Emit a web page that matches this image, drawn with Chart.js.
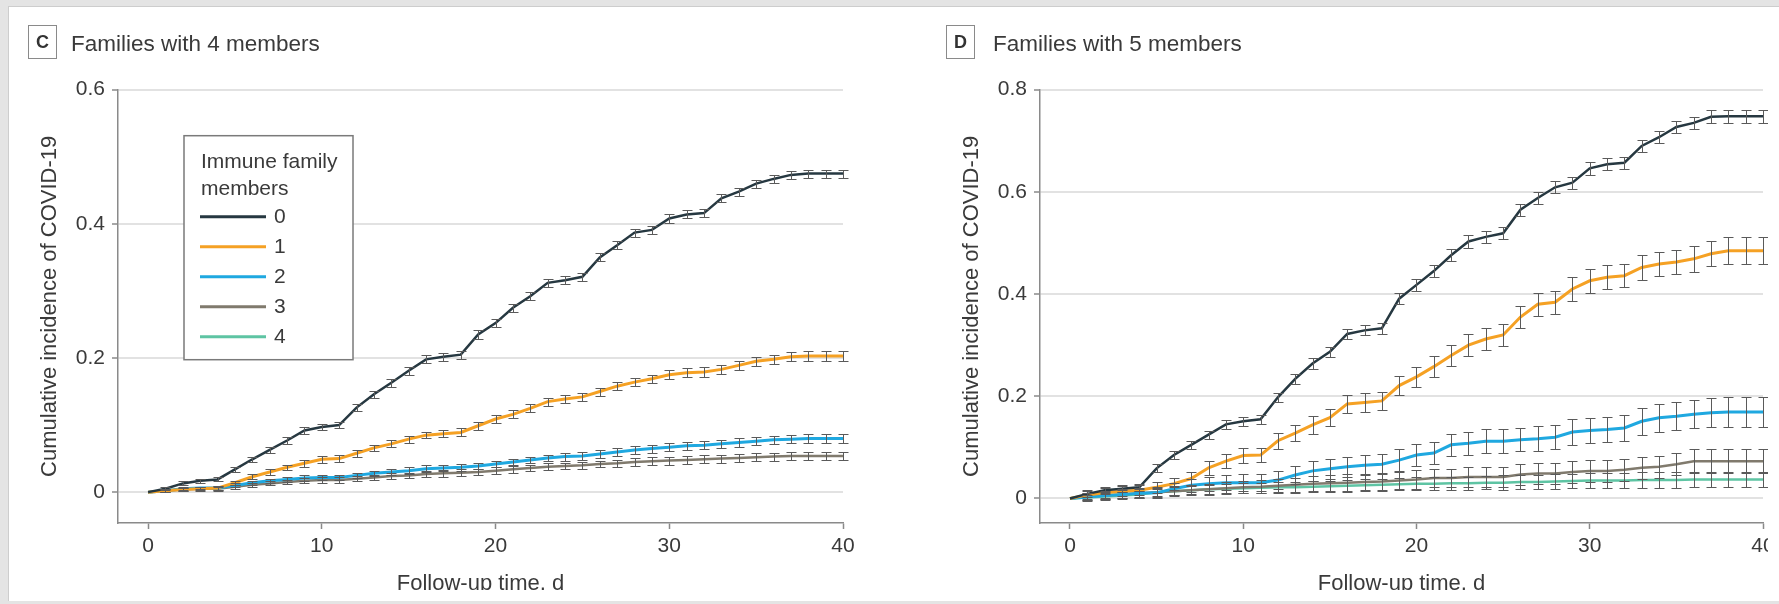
<!DOCTYPE html>
<html>
<head>
<meta charset="utf-8">
<script src="https://cdn.jsdelivr.net/npm/chart.js@4.4.1/dist/chart.umd.min.js"></script>
<style>
  html, body { margin: 0; padding: 0; width: 1779px; height: 604px; overflow: hidden; background: #e4e4e4; font-family: "Liberation Sans", Arial, sans-serif; }
  #frame { position: absolute; left: 8px; top: 6px; width: 1771px; height: 594px; background: #fff; border-top: 1px solid #cdcdcd; border-left: 1px solid #cdcdcd; }
  #clip { position: absolute; left: 0; top: 0; width: 1768px; height: 590px; overflow: hidden; }
  canvas { position: absolute; top: 0; }
  .tag { position: absolute; top: 25px; width: 27px; height: 32px; border: 1.5px solid #8a8a8a; font-weight: bold; font-size: 18px; line-height: 32px; text-align: center; color: #333; }
  .head { position: absolute; top: 31px; font-size: 22.5px; line-height: 26px; color: #3a3a3a; white-space: nowrap; }
</style>
</head>
<body>
<div id="frame"></div>
<div id="clip">
  <canvas id="chartC" width="880" height="620" style="left:0px"></canvas>
  <canvas id="chartD" width="880" height="620" style="left:922px"></canvas>
</div>
<div class="tag" style="left:28px">C</div>
<div class="head" style="left:71px">Families with 4 members</div>
<div class="tag" style="left:946px">D</div>
<div class="head" style="left:993px">Families with 5 members</div>

<script>
// follow-up day of each point
const days = [0,1,2,3,4,5,6,7,8,9,10,11,12,13,14,15,16,17,18,19,20,21,22,23,24,25,26,27,28,29,30,31,32,33,34,35,36,37,38,39,40];

const seriesLabels = ['0', '1', '2', '3', '4'];
const legendTitle = ['Immune family', 'members'];
const xTitle = 'Follow-up time, d';
const yTitle = 'Cumulative incidence of COVID-19';
const xTicks = [0, 10, 20, 30, 40];
const yTicksC = [0, 0.2, 0.4, 0.6];
const yTicksD = [0, 0.2, 0.4, 0.6, 0.8];

// C: families with 4 members
const c0 = [0,.005,.013,.017,.019,.034,.049,.063,.077,.092,.097,.100,.126,.146,.163,.181,.198,.202,.205,.235,.252,.275,.292,.312,.316,.321,.350,.368,.387,.391,.408,.414,.416,.438,.448,.460,.467,.473,.475,.475,.475];
const c1 = [0,.002,.004,.005,.006,.014,.023,.030,.037,.043,.049,.050,.058,.066,.072,.079,.085,.087,.089,.099,.109,.116,.125,.135,.139,.142,.150,.158,.164,.169,.175,.178,.179,.183,.189,.195,.198,.202,.203,.203,.203];
const c2 = [0,.002,.005,.006,.006,.010,.014,.017,.019,.021,.022,.022,.025,.028,.030,.032,.035,.036,.037,.039,.042,.045,.048,.051,.053,.054,.057,.060,.063,.065,.067,.069,.070,.072,.074,.076,.078,.079,.080,.080,.080];
const c3 = [0,.002,.004,.005,.005,.008,.011,.013,.015,.017,.018,.018,.020,.022,.024,.025,.027,.028,.029,.030,.032,.034,.036,.038,.039,.040,.042,.043,.045,.046,.047,.048,.049,.050,.051,.052,.053,.054,.054,.054,.054];
const c4 = [];
// 95% CI half widths
const c0Err = [0,.002,.003,.003,.003,.004,.004,.004,.005,.005,.005,.005,.005,.005,.006,.006,.006,.006,.006,.006,.006,.006,.006,.006,.006,.006,.006,.006,.006,.006,.006,.006,.006,.006,.006,.006,.006,.006,.006,.006,.006];
const c1Err = [0,.002,.002,.003,.003,.003,.004,.004,.004,.005,.005,.005,.005,.005,.005,.005,.005,.005,.006,.006,.006,.006,.006,.006,.006,.006,.006,.006,.006,.006,.007,.007,.007,.007,.007,.007,.007,.007,.007,.007,.007];
const c2Err = [0,.002,.002,.002,.003,.003,.003,.003,.004,.004,.004,.004,.004,.004,.004,.005,.005,.005,.005,.005,.005,.005,.005,.005,.006,.006,.006,.006,.006,.006,.006,.006,.006,.006,.006,.006,.006,.006,.006,.006,.006];
const c3Err = [0,.002,.002,.002,.003,.003,.003,.003,.003,.004,.004,.004,.004,.004,.004,.004,.005,.005,.005,.005,.005,.005,.005,.005,.005,.005,.005,.005,.006,.006,.006,.006,.006,.006,.006,.006,.006,.006,.006,.006,.006];
const c4Err = [];

// D: families with 5 members
const d0 = [0,.009,.016,.019,.022,.059,.085,.105,.125,.145,.151,.155,.198,.234,.264,.287,.322,.329,.333,.391,.418,.445,.476,.503,.512,.519,.565,.588,.609,.618,.646,.654,.657,.690,.707,.727,.735,.747,.748,.748,.748];
const d1 = [0,.007,.011,.014,.016,.022,.029,.039,.060,.073,.084,.085,.113,.128,.144,.158,.185,.188,.191,.221,.238,.258,.280,.300,.312,.320,.355,.380,.384,.410,.426,.433,.436,.452,.459,.463,.469,.479,.485,.485,.485];
const d2 = [0,.003,.006,.008,.010,.011,.019,.026,.029,.031,.031,.031,.036,.046,.054,.058,.062,.065,.067,.075,.085,.089,.105,.108,.112,.112,.115,.117,.120,.130,.133,.135,.138,.151,.158,.161,.165,.168,.169,.169,.169];
const d3 = [0,.004,.006,.008,.010,.012,.014,.016,.018,.020,.022,.023,.025,.027,.029,.030,.031,.032,.033,.035,.037,.040,.040,.042,.042,.042,.047,.049,.049,.052,.054,.054,.056,.060,.062,.067,.073,.073,.073,.073,.073];
const d4 = [0,.002,.004,.006,.008,.012,.014,.016,.018,.019,.020,.021,.022,.022,.023,.024,.025,.026,.027,.028,.029,.029,.030,.030,.031,.031,.032,.032,.033,.034,.035,.035,.035,.036,.036,.036,.037,.037,.037,.037,.037];
const d0Err = [0,.006,.007,.007,.007,.008,.008,.008,.008,.009,.009,.009,.009,.010,.010,.010,.010,.010,.011,.011,.011,.011,.012,.012,.012,.012,.012,.012,.012,.012,.012,.012,.012,.012,.012,.012,.012,.013,.013,.013,.013];
const d1Err = [0,.010,.010,.010,.010,.011,.012,.013,.014,.014,.014,.014,.016,.016,.017,.017,.018,.018,.018,.019,.020,.020,.021,.021,.021,.021,.022,.022,.022,.023,.023,.023,.023,.024,.024,.024,.025,.025,.026,.026,.026];
const d2Err = [0,.008,.009,.010,.010,.011,.012,.013,.014,.015,.016,.017,.018,.018,.019,.019,.020,.020,.020,.021,.021,.022,.022,.022,.023,.023,.023,.024,.024,.025,.025,.025,.026,.026,.027,.027,.028,.028,.029,.029,.030];
const d3Err = [0,.006,.007,.008,.008,.009,.010,.010,.011,.012,.012,.013,.014,.014,.015,.015,.016,.016,.017,.017,.018,.018,.018,.019,.019,.019,.020,.020,.020,.021,.021,.021,.021,.022,.022,.022,.023,.023,.023,.023,.023];
const d4Err = [0,.005,.006,.006,.007,.007,.008,.008,.009,.009,.010,.010,.010,.011,.011,.011,.012,.012,.012,.012,.013,.013,.013,.013,.013,.014,.014,.014,.014,.014,.014,.015,.015,.015,.015,.015,.015,.015,.015,.015,.015];

const seriesColors = ['#263841', '#f5a124', '#1fa8e0', '#807a6d', '#5ec4a3'];
const seriesWidths = [2.5, 3, 3, 2.5, 2.5];
const textColor = '#3a3a3a';
const axisColor = '#8a8a8a';
const gridColor = '#e2e2e2';

Chart.defaults.font.family = '"Liberation Sans", Arial, sans-serif';

// draws the CI whiskers at every day
const errorBars = {
    id: 'errorBars',
    afterDatasetsDraw(chart) {
        const { ctx, scales: { x, y } } = chart;
        ctx.save();
        ctx.strokeStyle = '#5a5a5a';
        ctx.lineWidth = 1;
        chart.data.datasets.forEach(ds => {
            (ds.err || []).forEach((e, i) => {
                if (!e) return;
                const pt = ds.data[i];
                const px = Math.round(x.getPixelForValue(pt.x)) + 0.5;
                const hi = Math.round(y.getPixelForValue(pt.y + e)) + 0.5;
                const lo = Math.round(y.getPixelForValue(pt.y - e)) + 0.5;
                ctx.beginPath();
                ctx.moveTo(px, hi); ctx.lineTo(px, lo);
                ctx.moveTo(px - 5, hi); ctx.lineTo(px + 5, hi);
                ctx.moveTo(px - 5, lo); ctx.lineTo(px + 5, lo);
                ctx.stroke();
            });
        });
        ctx.restore();
    }
};

// boxed legend inside the plot of panel C
const boxLegend = {
    id: 'boxLegend',
    afterDraw(chart, args, opts) {
        if (!opts.show) return;
        const { ctx, chartArea } = chart;
        const x0 = chartArea.left + 66, y0 = chartArea.top + 46;
        ctx.save();
        ctx.fillStyle = '#fff';
        ctx.fillRect(x0, y0, 169, 224);
        ctx.strokeStyle = '#7a7a7a';
        ctx.lineWidth = 1.5;
        ctx.strokeRect(x0, y0, 169, 224);
        ctx.fillStyle = textColor;
        ctx.font = '21px "Liberation Sans", Arial, sans-serif';
        ctx.textBaseline = 'alphabetic';
        legendTitle.forEach((t, i) => ctx.fillText(t, x0 + 17, y0 + 32 + i * 27));
        ctx.textBaseline = 'middle';
        chart.data.datasets.forEach((ds, i) => {
            const ly = y0 + 81 + i * 30;
            ctx.strokeStyle = ds.borderColor;
            ctx.lineWidth = 3;
            ctx.beginPath();
            ctx.moveTo(x0 + 16, ly);
            ctx.lineTo(x0 + 82, ly);
            ctx.stroke();
            ctx.fillText(ds.label, x0 + 90, ly + 1);
        });
        ctx.restore();
    }
};

function makeChart(canvasId, series, errs, yMin, yMax, yTicks, padRight, showLegend) {
    const datasets = series.map((vals, i) => ({
        label: seriesLabels[i],
        data: vals.map((v, j) => ({ x: days[j], y: v })),
        err: errs[i],
        borderColor: seriesColors[i],
        backgroundColor: seriesColors[i],
        borderWidth: seriesWidths[i],
        pointRadius: 0,
        tension: 0,
        fill: false
    }));

    return new Chart(document.getElementById(canvasId), {
        type: 'line',
        data: { datasets },
        options: {
            responsive: false,
            animation: false,
            events: [],
            layout: { padding: { left: 0, right: padRight, top: 89.7, bottom: 22.5 } },
            plugins: {
                legend: { display: false },
                tooltip: { enabled: false },
                boxLegend: { show: showLegend }
            },
            scales: {
                x: {
                    type: 'linear',
                    min: -1.73,
                    max: 40,
                    afterBuildTicks: s => { s.ticks = xTicks.map(v => ({ value: v })); },
                    afterFit: s => { s.height = 74.5; },
                    grid: { drawOnChartArea: false, tickLength: 6, tickColor: axisColor, tickWidth: 1.5 },
                    border: { color: axisColor, width: 1.5 },
                    ticks: { padding: 5, color: textColor, font: { size: 21 }, maxRotation: 0 },
                    title: { display: true, text: xTitle, color: textColor, font: { size: 22 }, padding: { top: 0, bottom: 0 } }
                },
                y: {
                    min: yMin,
                    max: yMax,
                    afterBuildTicks: s => { s.ticks = yTicks.map(v => ({ value: v })); },
                    afterFit: s => { s.width = 118; },
                    grid: { color: gridColor, lineWidth: 2, tickLength: 6, tickColor: axisColor, tickWidth: 1.5 },
                    border: { color: axisColor, width: 1.5 },
                    ticks: { padding: 7, color: textColor, font: { size: 21 }, callback: v => v === 0 ? '0' : v.toFixed(1) },
                    title: { display: true, text: yTitle, color: textColor, font: { size: 22 }, padding: { top: 36.8, bottom: 0 } }
                }
            }
        },
        plugins: [errorBars, boxLegend]
    });
}

makeChart('chartC', [c0, c1, c2, c3, c4], [c0Err, c1Err, c2Err, c3Err, c4Err], -0.046, 0.6, yTicksC, 37, true);
makeChart('chartD', [d0, d1, d2, d3, d4], [d0Err, d1Err, d2Err, d3Err, d4Err], -0.048, 0.8, yTicksD, 39, false);
</script>
</body>
</html>
